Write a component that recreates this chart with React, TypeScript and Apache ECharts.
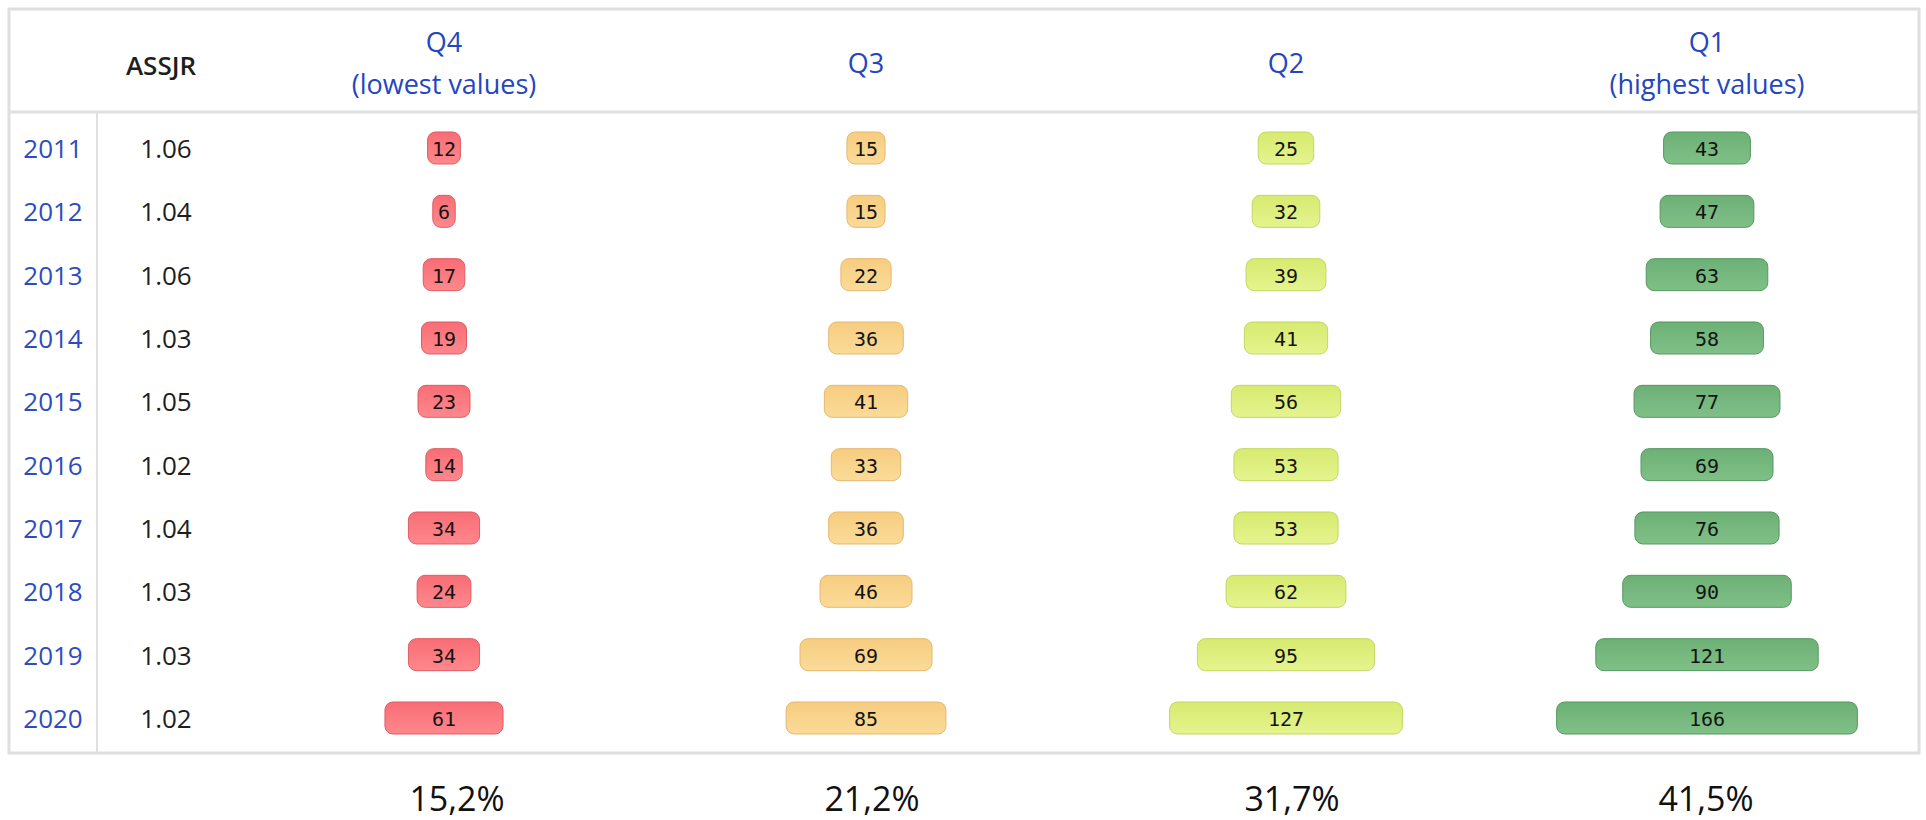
import { useEffect, useRef } from 'react';
import * as echarts from 'echarts';

const years = ['2011', '2012', '2013', '2014', '2015', '2016', '2017', '2018', '2019', '2020'];
const assjr = [1.06, 1.04, 1.06, 1.03, 1.05, 1.02, 1.04, 1.03, 1.03, 1.02];
const q4 = [12, 6, 17, 19, 23, 14, 34, 24, 34, 61];
const q3 = [15, 15, 22, 36, 41, 33, 36, 46, 69, 85];
const q2 = [25, 32, 39, 41, 56, 53, 53, 62, 95, 127];
const q1 = [43, 47, 63, 58, 77, 69, 76, 90, 121, 166];
const quartileHeaders = ['Q4\n(lowest values)', 'Q3', 'Q2', 'Q1\n(highest values)'];
const quartileShares = ['15,2%', '21,2%', '31,7%', '41,5%'];
const assjrHeader = 'ASSJR';

const quartileSeries = [q4, q3, q2, q1];
const palettes = [
  { top: '#f86d75', bottom: '#ff888d', stroke: '#de5c64' },
  { top: '#f6cd80', bottom: '#fbdb98', stroke: '#e6b870' },
  { top: '#d7ea70', bottom: '#e5f48e', stroke: '#c3d762' },
  { top: '#6db076', bottom: '#7fc087', stroke: '#559860' },
];

const TOP = 116.33;
const HEIGHT = 633.33;
const colCenters = [444, 866, 1286, 1707];
const shareX = [457, 872, 1292, 1706];
const BAR_HALF_W = 200;
const AXIS_MAX = 115;

export default function App() {
  const ref = useRef<HTMLDivElement>(null);

  useEffect(() => {
    if (!ref.current) return;
    const chart = echarts.init(ref.current, null, { renderer: 'svg' });

    const makeRender = (pal: any) => (params: any, api: any) => {
      const v = api.value(0);
      const idx = api.value(1);
      const c = api.coord([0, idx]);
      const e = api.coord([v / 2, idx]);
      const half = e[0] - c[0] + 6;
      const h = 32;
      return {
        type: 'group',
        children: [
          {
            type: 'rect',
            shape: { x: c[0] - half, y: c[1] - h / 2, width: half * 2, height: h, r: 8 },
            style: {
              fill: {
                type: 'linear', x: 0, y: 0, x2: 0, y2: 1,
                colorStops: [
                  { offset: 0, color: pal.top },
                  { offset: 1, color: pal.bottom },
                ],
              },
              stroke: pal.stroke,
              lineWidth: 1,
            },
          },
          {
            type: 'text',
            style: {
              text: String(v),
              x: c[0],
              y: c[1] + 1,
              align: 'center',
              verticalAlign: 'middle',
              textAlign: 'center',
              textVerticalAlign: 'middle',
              font: '20px "DejaVu Sans Mono"',
              fill: '#141414',
            },
          },
        ],
      };
    };

    const grids: any[] = [
      { left: 97, top: TOP, width: 10, height: HEIGHT, outerBoundsMode: 'none' },
      { left: 166, top: TOP, width: 10, height: HEIGHT, outerBoundsMode: 'none' },
      ...colCenters.map((cx) => ({
        left: cx - BAR_HALF_W, top: TOP, width: BAR_HALF_W * 2, height: HEIGHT, outerBoundsMode: 'none',
      })),
    ];

    const hiddenX = (i: number, min?: number, max?: number) => ({
      type: 'value', gridIndex: i, show: false, min, max,
    });

    const xAxes = [
      hiddenX(0, 0, 1),
      hiddenX(1, 0, 1),
      ...colCenters.map((_, k) => hiddenX(k + 2, -AXIS_MAX, AXIS_MAX)),
    ];

    const baseY = (i: number) => ({
      type: 'category',
      gridIndex: i,
      data: years,
      inverse: true,
      axisLine: { show: false },
      axisTick: { show: false },
      splitLine: { show: false },
    });

    const yAxes: any[] = [
      {
        ...baseY(0),
        axisLabel: {
          margin: 44, align: 'center', fontFamily: 'Open Sans', fontSize: 26, color: '#2d4cc0',
        },
      },
      {
        ...baseY(1),
        axisLabel: {
          margin: 0, align: 'center', fontFamily: 'Open Sans', fontSize: 26, color: '#1e1e1e',
          formatter: (_v: string, idx: number) => assjr[idx].toFixed(2),
        },
      },
      ...colCenters.map((_, k) => ({ ...baseY(k + 2), axisLabel: { show: false } })),
    ];

    const series = quartileSeries.map((vals, k) => ({
      type: 'custom',
      xAxisIndex: k + 2,
      yAxisIndex: k + 2,
      encode: { x: 0, y: 1 },
      data: vals.map((v, i) => [v, i]),
      renderItem: makeRender(palettes[k]),
    }));

    const graphic: any[] = [
      {
        type: 'rect',
        shape: { x: 9, y: 9, width: 1910, height: 744 },
        style: { fill: 'none', stroke: '#dfdfdf', lineWidth: 3 },
      },
      {
        type: 'line',
        shape: { x1: 9, y1: 112, x2: 1919, y2: 112 },
        style: { stroke: '#e0e0e0', lineWidth: 3 },
      },
      {
        type: 'line',
        shape: { x1: 97, y1: 112, x2: 97, y2: 753 },
        style: { stroke: '#e0e0e0', lineWidth: 2 },
      },
      {
        type: 'text',
        x: 161,
        y: 65,
        style: {
          text: assjrHeader,
          align: 'center', verticalAlign: 'middle', textAlign: 'center', textVerticalAlign: 'middle',
          font: '600 26px "Open Sans"',
          fill: '#1e1e1e',
        },
      },
      ...quartileHeaders.map((t, k) => ({
        type: 'text',
        x: colCenters[k],
        y: 62,
        style: {
          text: t,
          align: 'center', verticalAlign: 'middle', textAlign: 'center', textVerticalAlign: 'middle',
          font: '27px "Open Sans"',
          lineHeight: 42,
          fill: '#2446c0',
        },
      })),
      ...quartileShares.map((t, k) => ({
        type: 'text',
        x: shareX[k],
        y: 798,
        style: {
          text: t,
          align: 'center', verticalAlign: 'middle', textAlign: 'center', textVerticalAlign: 'middle',
          font: '34px "Open Sans"',
          fill: '#111111',
        },
      })),
    ];

    chart.setOption({
      animation: false,
      backgroundColor: '#ffffff',
      grid: grids,
      xAxis: xAxes,
      yAxis: yAxes,
      series,
      graphic,
    });

    return () => chart.dispose();
  }, []);

  return (
    <div
      ref={ref}
      style={{ position: 'fixed', left: 0, top: 0, width: 1926, height: 820 }}
    />
  );
}
